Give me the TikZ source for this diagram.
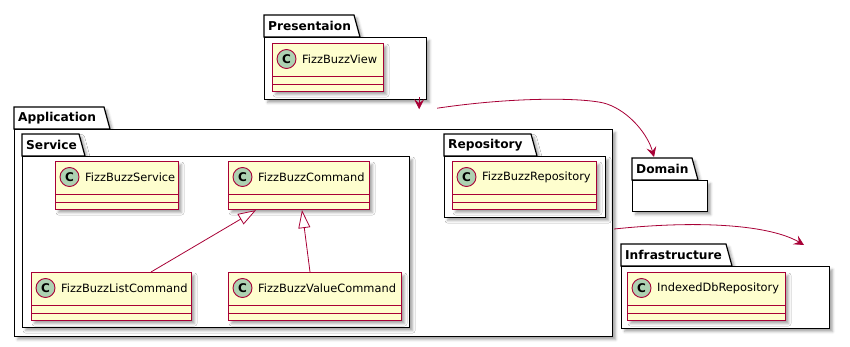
\documentclass[tikz,border=0pt]{standalone}
\usepackage{fontspec}
\setmainfont{DejaVu Sans}
\usetikzlibrary{arrows.meta,calc,shadows.blur}
\definecolor{umlred}{HTML}{A80036}
\definecolor{umlfill}{HTML}{FEFECE}
\definecolor{umlcirc}{HTML}{ADD1B2}
\tikzset{
	soft shadow/.style={blur shadow={shadow xshift=3pt,shadow yshift=-3pt,shadow blur radius=2.5pt,shadow opacity=35}},
	pkg line/.style={draw,line width=1.2pt,fill=white,soft shadow},
	pkg body/.style={rectangle,draw,line width=1.2pt,fill=white,inner sep=0pt,soft shadow},
	pkg label/.style={inner sep=0pt,font=\bfseries\fontsize{12.2}{14}\selectfont},
	cls/.style={rectangle,draw=umlred,line width=1.1pt,fill=umlfill,minimum height=48pt,inner sep=0pt,soft shadow},
	cls line/.style={draw=umlred,line width=1.1pt},
	cls circle/.style={circle,draw=umlred,line width=0.9pt,fill=umlcirc,minimum size=19pt,inner sep=0pt,font=\bfseries\fontsize{12}{12}\selectfont},
	cls name/.style={inner sep=0pt,font=\fontsize{11.4}{13}\selectfont},
	dep/.style={draw=umlred,line width=0.8pt,-{Stealth[length=10pt,width=10pt,inset=4pt]}},
	inh/.style={draw=umlred,line width=0.8pt,-{Triangle[length=18pt,width=12pt,fill=white]}},
}
% name, x, y (top left of body), width, height, tab width, title
\newcommand{\umlpackage}[7]{%
	\draw[pkg line] (#2,#3) -- ++(0,-22) -- ++(#6-6,0) -- ++(6,22) -- cycle;
	\node[pkg body,minimum width=#4,minimum height=#5,anchor=north west] (#1) at (#2,#3) {};
	\node[pkg label,anchor=west] (#1-title) at (#2+4,#3-11) {#7};}
% name, x, y (top left), width, class name
\newcommand{\umlclass}[5]{%
	\node[cls,minimum width=#4,anchor=north west] (#1) at (#2,#3) {};
	\draw[cls line] ($(#1.south west)+(0,-16)$) -- ($(#1.south east)+(0,-16)$);
	\draw[cls line] ($(#1.south west)+(0,-8)$) -- ($(#1.south east)+(0,-8)$);
	\node[cls circle] (#1-c) at ($(#1.north west)+(14.5,16)$) {C};
	\node[cls name,anchor=west] (#1-name) at ($(#1.north west)+(30,16)$) {#5};}

\begin{document}
\begin{tikzpicture}[x=1pt,y=-1pt]
	\useasboundingbox (0,0) rectangle (850,347);
	
	\umlpackage{pres}{264}{37}{162}{62}{96}{Presentaion}
	\umlclass{view}{272}{43}{111}{FizzBuzzView}
	
	\umlpackage{app}{14}{129}{598}{207}{96}{Application}
	\umlpackage{service}{22}{156}{387}{171}{63}{Service}
	\umlclass{fbsvc}{55}{161}{123}{FizzBuzzService}
	\umlclass{fbcmd}{228}{161}{141}{FizzBuzzCommand}
	\umlclass{listcmd}{31}{272}{160}{FizzBuzzListCommand}
	\umlclass{valcmd}{228}{272}{173}{FizzBuzzValueCommand}
	\umlpackage{repo}{444}{156}{161}{61}{93}{Repository}
	\umlclass{fbrepo}{452}{161}{144}{FizzBuzzRepository}
	
	\umlpackage{dom}{632}{180}{75}{31}{66}{Domain}
	
	\umlpackage{infra}{621}{266}{208}{62}{111}{Infrastructure}
	\umlclass{idbrepo}{627}{272}{158}{IndexedDbRepository}
	
	% inheritance
	\draw[inh] ($(listcmd.north west)+(120,0)$) -- ($(fbcmd.south west)+(28,0)$);
	\draw[inh] ($(valcmd.north west)+(82,0)$) -- ($(fbcmd.south west)+(74,0)$);
	
	% package dependencies
	\draw[dep] ($(pres.south east)+(-8,-3)$) -- ($(pres.south east)+(-8,9)$);
	\draw[dep] ($(pres.south east)+(10,8)$) .. controls (520,96) and (590,98) .. (607,104)
		.. controls (630,112) and (648,135) .. ($(dom.north west)+(22,-23)$);
	\draw[dep] ($(app.north east)+(1,100)$) .. controls (700,220) and (770,225) .. ($(infra.north west)+(183,-21)$);
\end{tikzpicture}
\end{document}
